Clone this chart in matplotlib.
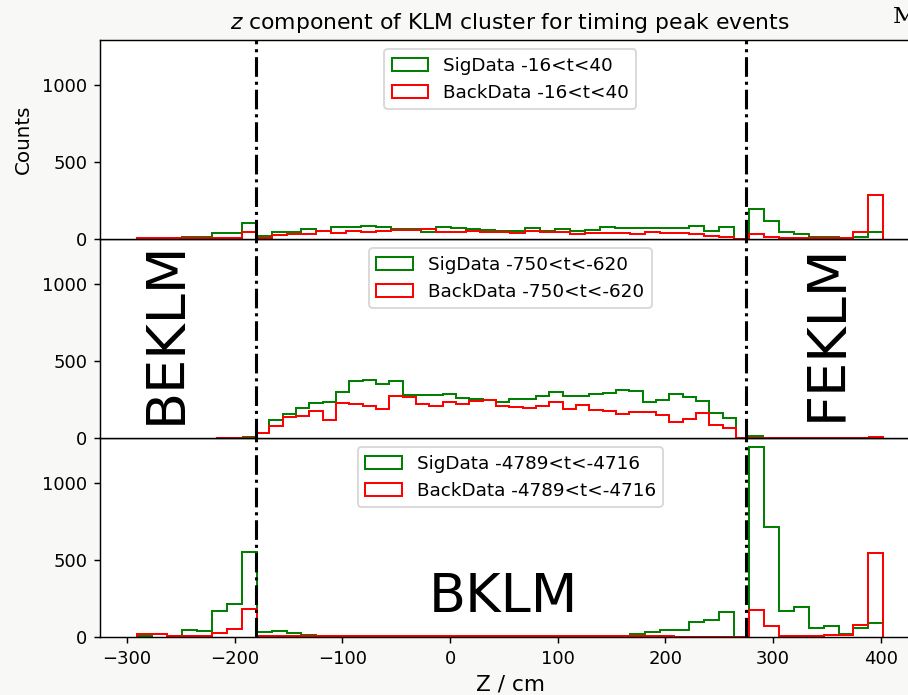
import numpy as np
import matplotlib
matplotlib.use("Agg")
import matplotlib.pyplot as plt

# Histogram windows (z range of each panel's data) and binning
n_bins = 50
z_range_peak = (-290.6, 402.5)
z_range_mid = (-217.5, 402.0)
z_range_late = (-290.6, 402.5)

# KLM sub-detector boundaries along z
bklm_lo, bklm_hi = -180, 275

# Panel 1: -16 < t < 40
peak_sig = [3, 3, 5, 15, 12, 37, 37, 102,
            22, 45, 45, 65, 52, 78, 76, 82, 80, 65, 65, 45, 80, 74, 67, 58,
            54, 52, 71, 54, 67, 50, 61, 78, 69, 69, 74, 71, 71, 87, 54, 76,
            0, 197, 117, 43, 35, 15, 15, 9, 15, 48]
peak_back = [9, 9, 5, 5, 5, 9, 9, 43,
             9, 26, 30, 35, 54, 41, 54, 43, 54, 58, 56, 65, 48, 48, 50, 48,
             43, 41, 54, 48, 48, 35, 41, 41, 41, 32, 43, 41, 41, 35, 19, 15,
             0, 30, 15, 4, 4, 4, 9, 9, 45, 284]

# Panel 2: -750 < t < -620
mid_sig = [3, 3, 9,
           30, 117, 158, 195, 227, 232, 301, 368, 375, 353, 368, 279, 277, 279,
           286, 258, 255, 245, 232, 255, 251, 275, 297, 271, 271, 286, 292, 314,
           303, 232, 245, 288, 266, 240, 162, 128,
           0, 13, 2, 2, 2, 2, 2, 2, 2, 2, 2]
mid_back = [2, 2, 0,
            32, 76, 136, 145, 173, 119, 227, 223, 210, 188, 271, 266, 223, 206,
            236, 221, 240, 247, 206, 199, 193, 206, 232, 191, 217, 182, 173, 158,
            171, 171, 152, 104, 121, 162, 82, 65,
            0, 2, 2, 2, 2, 2, 2, 2, 2, 2, 6]

# Panel 3: -4789 < t < -4716
late_sig = [6, 17, 6, 48, 37, 169, 216, 552,
            32, 41, 26, 15, 6, 4, 4, 3, 3, 3, 3, 3, 3, 4, 4, 4, 5, 5, 6, 6,
            7, 8, 9, 9, 9, 19, 35, 43, 45, 97, 108, 162,
            0, 1234, 714, 169, 195, 58, 69, 22, 56, 93]
late_back = [17, 19, 6, 6, 6, 24, 52, 184,
             6, 5, 5, 5, 5, 5, 5, 5, 5, 5, 5, 5, 5, 5, 5, 5, 5, 5, 5, 5,
             5, 5, 5, 5, 6, 6, 6, 4, 3, 3, 3, 3,
             0, 173, 71, 6, 9, 6, 13, 13, 78, 550]

windows = ["-16<t<40", "-750<t<-620", "-4789<t<-4716"]
panels = [
    (z_range_peak, peak_sig, peak_back),
    (z_range_mid, mid_sig, mid_back),
    (z_range_late, late_sig, late_back),
]

DPI = 130
fig = plt.figure(figsize=(908 / DPI, 695 / DPI), dpi=DPI, facecolor="#f8f8f6")

left = 100 / 908
width = 820.6 / 908
h = 199 / 695
bottom0 = 1 - 637 / 695

ax3 = fig.add_axes([left, bottom0, width, h])
ax2 = fig.add_axes([left, bottom0 + h, width, h], sharex=ax3, sharey=ax3)
ax1 = fig.add_axes([left, bottom0 + 2 * h, width, h], sharex=ax3, sharey=ax3)
axes = [ax1, ax2, ax3]

for ax, (rng, sig, back), win in zip(axes, panels, windows):
    edges = np.histogram_bin_edges([], bins=n_bins, range=rng)
    centers = 0.5 * (edges[:-1] + edges[1:])
    ax.hist(centers, bins=edges, weights=sig, histtype="step",
            color="green", linewidth=1.1, label=f"SigData {win}")
    ax.hist(centers, bins=edges, weights=back, histtype="step",
            color="red", linewidth=1.1, label=f"BackData {win}")
    ax.axvline(bklm_lo, color="k", ls="-.", lw=1.7)
    ax.axvline(bklm_hi, color="k", ls="-.", lw=1.7)
    ax.legend(loc="upper center", fontsize=10.2)
    ax.set_yticks([0, 500, 1000])

for ax in (ax1, ax2):
    ax.tick_params(axis="x", bottom=False, labelbottom=False)

ax3.set_xticks([-300, -200, -100, 0, 100, 200, 300, 400])
ax1.set_title(r"$z$ component of KLM cluster for timing peak events",
              fontsize=12.1)
ax1.set_ylabel("Counts", fontsize=11, labelpad=5)
ax3.set_xlabel("Z / cm", fontsize=12)

ax2.text(-264, 690, "BEKLM", rotation=90, fontsize=30, ha="center", va="center")
ax2.text(350, 690, "FEKLM", rotation=90, fontsize=30, ha="center", va="center")
ax3.text(50, 260, "BKLM", fontsize=30, ha="center", va="center")

fig.text(893 / 908, 1 - 17 / 695, "M", family="DejaVu Serif", fontsize=13,
         ha="left", va="center")

fig.savefig("out.png", dpi=DPI, facecolor=fig.get_facecolor())
